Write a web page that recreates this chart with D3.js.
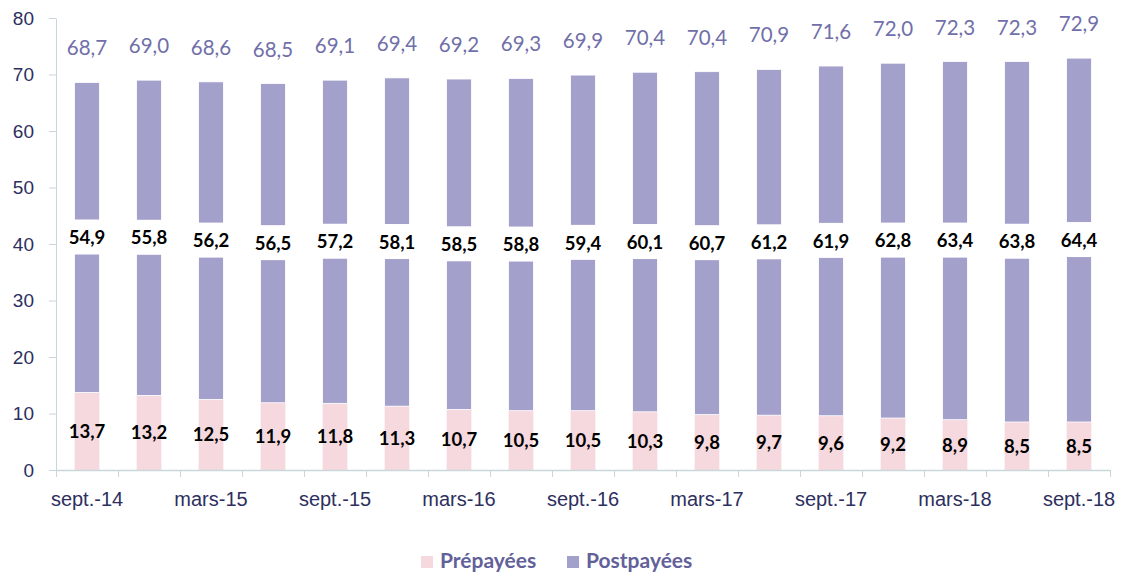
<!DOCTYPE html>
<html>
<head>
<meta charset="utf-8">
<script src="https://cdn.jsdelivr.net/npm/d3@7"></script>
<style>
  body { margin: 0; background: #fff; }
  svg { font-family: Lato, sans-serif; }
</style>
</head>
<body>
<div id="chart"></div>
<script>
const categories = ["sept.-14", "déc.-14", "mars-15", "juin-15", "sept.-15", "déc.-15",
    "mars-16", "juin-16", "sept.-16", "déc.-16", "mars-17", "juin-17", "sept.-17",
    "déc.-17", "mars-18", "juin-18", "sept.-18"];
const prepaid = [13.7, 13.2, 12.5, 11.9, 11.8, 11.3, 10.7, 10.5, 10.5, 10.3, 9.8, 9.7, 9.6, 9.2, 8.9, 8.5, 8.5];
const postpaid = [54.9, 55.8, 56.2, 56.5, 57.2, 58.1, 58.5, 58.8, 59.4, 60.1, 60.7, 61.2, 61.9, 62.8, 63.4, 63.8, 64.4];
const totals = [68.7, 69.0, 68.6, 68.5, 69.1, 69.4, 69.2, 69.3, 69.9, 70.4, 70.4, 70.9, 71.6, 72.0, 72.3, 72.3, 72.9];
const yTicks = [0, 10, 20, 30, 40, 50, 60, 70, 80];
const xLabels = categories.filter((d, i) => i % 2 === 0);
const seriesNames = ["Prépayées", "Postpayées"];

function drawChart() {
    const width = 1126, height = 577;
    const margin = { top: 18, right: 16, bottom: 107, left: 56 };
    const innerWidth = width - margin.left - margin.right;
    const innerHeight = height - margin.top - margin.bottom;

    const pink = "#f6d9de", purple = "#a3a0cb";
    const fmt = v => v.toFixed(1).replace(".", ",");

    const svg = d3.select("#chart")
        .append("svg")
        .attr("width", width)
        .attr("height", height);

    const g = svg.append("g")
        .attr("transform", `translate(${margin.left},${margin.top})`);

    const x = d3.scaleBand()
        .domain(categories)
        .range([0, innerWidth])
        .paddingInner(0.6)
        .paddingOuter(0.3);

    const xEdges = d3.scaleLinear()
        .domain([0, categories.length])
        .range([0, innerWidth]);

    const y = d3.scaleLinear()
        .domain([0, 80])
        .range([innerHeight, 0]);

    const data = categories.map((c, i) => ({
        cat: c, pre: prepaid[i], post: postpaid[i], total: totals[i]
    }));

    // y axis
    const yAxis = g.append("g")
        .call(d3.axisLeft(y).tickValues(yTicks).tickSize(7).tickSizeOuter(0).tickPadding(15));
    yAxis.select(".domain").attr("stroke", "#c9d6da");
    yAxis.selectAll(".tick line").attr("stroke", "#c9d6da");
    yAxis.selectAll(".tick text")
        .style("font-size", "19px")
        .style("fill", "#2d2f5e");

    // prepaid segments
    g.selectAll(".pre")
        .data(data)
        .enter()
        .append("rect")
        .attr("class", "pre")
        .attr("x", d => x(d.cat))
        .attr("width", x.bandwidth())
        .attr("y", d => y(d.pre))
        .attr("height", d => y(0) - y(d.pre))
        .attr("fill", pink);

    // postpaid segments
    g.selectAll(".post")
        .data(data)
        .enter()
        .append("rect")
        .attr("class", "post")
        .attr("x", d => x(d.cat))
        .attr("width", x.bandwidth())
        .attr("y", d => y(d.pre + d.post))
        .attr("height", d => y(d.pre) - y(d.pre + d.post))
        .attr("fill", purple)
        .attr("stroke", "#fff")
        .attr("stroke-width", 0.8);

    // x axis: line and boundary ticks
    const xAxis = g.append("g")
        .attr("transform", `translate(0,${innerHeight})`)
        .call(d3.axisBottom(xEdges).tickValues(d3.range(categories.length + 1)).tickSize(7).tickSizeOuter(0).tickFormat(""));
    xAxis.select(".domain").attr("stroke", "#c9d6da").attr("stroke-width", 1.5);
    xAxis.selectAll(".tick line").attr("stroke", "#c9d6da");

    // x labels
    const xLab = g.append("g")
        .attr("transform", `translate(0,${innerHeight})`)
        .call(d3.axisBottom(x).tickValues(xLabels).tickSize(0).tickPadding(22));
    xLab.select(".domain").remove();
    xLab.selectAll(".tick text")
        .style("font-size", "20px")
        .style("fill", "#2d2f5e");

    // prepaid labels
    g.selectAll(".preLabel")
        .data(data)
        .enter()
        .append("text")
        .attr("x", d => x(d.cat) + x.bandwidth() / 2)
        .attr("y", d => y(d.pre / 2))
        .attr("dy", "0.36em")
        .attr("text-anchor", "middle")
        .style("font-size", "18.5px")
        .style("font-weight", "bold")
        .style("fill", "#000")
        .text(d => fmt(d.pre));

    // postpaid labels on white boxes
    const mid = d => y(d.pre + d.post / 2);
    g.selectAll(".postBox")
        .data(data)
        .enter()
        .append("rect")
        .attr("x", d => x(d.cat) - 2)
        .attr("width", x.bandwidth() + 4)
        .attr("y", d => mid(d) - 18)
        .attr("height", 35)
        .attr("fill", "#fff");

    g.selectAll(".postLabel")
        .data(data)
        .enter()
        .append("text")
        .attr("x", d => x(d.cat) + x.bandwidth() / 2)
        .attr("y", d => mid(d))
        .attr("dy", "0.36em")
        .attr("text-anchor", "middle")
        .style("font-size", "18.5px")
        .style("font-weight", "bold")
        .style("fill", "#000")
        .text(d => fmt(d.post));

    // totals
    g.selectAll(".totalLabel")
        .data(data)
        .enter()
        .append("text")
        .attr("x", d => x(d.cat) + x.bandwidth() / 2)
        .attr("y", d => y(d.pre + d.post) - 27)
        .attr("text-anchor", "middle")
        .style("font-size", "20.5px")
        .style("fill", "#716fa9")
        .text(d => fmt(d.total));

    // legend
    const legend = svg.append("g");
    const legendX = [421, 567];
    [pink, purple].forEach((col, i) => {
        legend.append("rect")
            .attr("x", legendX[i])
            .attr("y", 556)
            .attr("width", 12)
            .attr("height", 12)
            .attr("fill", col);
        legend.append("text")
            .attr("x", legendX[i] + 19)
            .attr("y", 568)
            .style("font-size", "21px")
            .style("font-weight", "bold")
            .style("fill", "#62619a")
            .text(seriesNames[i]);
    });
}

drawChart();
</script>
</body>
</html>
